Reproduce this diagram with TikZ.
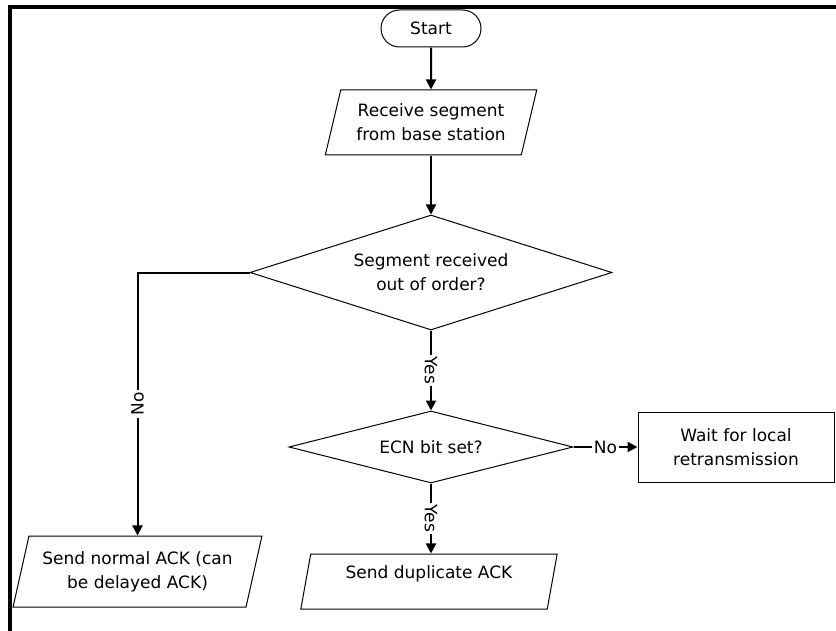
\documentclass[tikz,border=0pt]{standalone}
\usepackage{fontspec}
\setmainfont{DejaVu Sans}
\usetikzlibrary{shapes.misc}
\usetikzlibrary{shapes.geometric}
\usetikzlibrary{arrows.meta}

\tikzset{
  base/.style={draw, line width=0.5pt, align=center, inner sep=0pt, font=\fontsize{8.5}{12}\selectfont},
  term/.style={base, rounded rectangle, minimum width=50pt, minimum height=18.5pt},
  io/.style={base, trapezium, trapezium left angle=71, trapezium right angle=109, trapezium stretches=true},
  dec/.style={base, diamond},
  proc/.style={base, rectangle, minimum width=98pt, minimum height=35pt},
  flow/.style={-{Triangle[length=5pt,width=5pt]}, line width=1pt},
  lab/.style={fill=white, inner sep=1pt, font=\fontsize{8.5}{10}\selectfont}
}

\begin{document}
\begin{tikzpicture}[x=0.5pt, y=-0.5pt]
\useasboundingbox (0,0) rectangle (836,631);
%CORNICE
\draw[line width=2pt] (10,631) -- (10,7) -- (836,7);
%NODI
\node[term] (start) at (431,28.5) {Start};
\node[io, minimum width=106pt, minimum height=32.5pt] (recv) at (431,122.5) {Receive segment\\from base station};
\node[dec, aspect=3.15, minimum width=181pt, minimum height=57.5pt] (order) at (431,272.5) {Segment received\\out of order?};
\node[dec, aspect=3.94, minimum width=142pt, minimum height=36pt] (ecn) at (431,447) {ECN bit set?};
\node[proc] (wait) at (736,447) {Wait for local\\retransmission};
\node[io, minimum width=124.5pt, minimum height=35.5pt] (normal) at (137.5,571.5) {Send normal ACK (can\\be delayed ACK)};
\node[io, trapezium left angle=67, trapezium right angle=113, minimum width=129pt, minimum height=27.5pt] (dup) at (429,581.5) {\raisebox{4pt}[\height][\depth]{Send duplicate ACK}};
%FRECCE
\draw[flow] (start) -- (recv);
\draw[flow] (recv) -- (order);
\draw[flow] (order) -- node[lab, rotate=-90] {Yes} (ecn);
\draw[flow] (ecn.south) -- node[lab, rotate=-90] {Yes} (ecn.south |- dup.north);
\draw[flow] (ecn) -- node[lab] {No} (wait);
% RAMO NO
\draw[flow] (order.west) -| node[lab, pos=0.75, rotate=90] {No} (normal.north);
\end{tikzpicture}
\end{document}
